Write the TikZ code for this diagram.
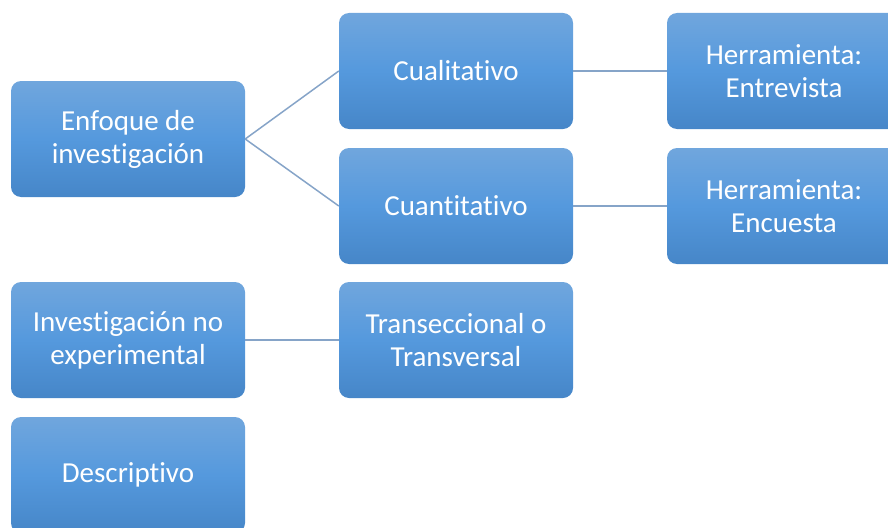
\documentclass[tikz,border=0pt]{standalone}
\usepackage{fontspec}
\setmainfont{Carlito}[Ligatures=NoCommon]
\definecolor{boxtop}{HTML}{70A6DD}
\definecolor{boxmid}{HTML}{5599DD}
\definecolor{boxbot}{HTML}{4686C8}
\definecolor{linkcol}{HTML}{86A4C8}
\begin{document}
\begin{tikzpicture}[x=1pt,y=-1pt,
  box/.style={rectangle, rounded corners=10pt, minimum width=234pt, minimum height=116pt,
    top color=boxtop, bottom color=boxbot, middle color=boxmid, draw=none,
    text=white, align=center, font=\fontsize{29}{33}\selectfont, inner sep=0pt},
  link/.style={draw=linkcol, line width=1.5pt}]
\useasboundingbox (0,0) rectangle (888,527);
\clip (0,0) rectangle (888,527);
\node[box] (enf) at (128,139) {Enfoque de\\investigación};
\node[box] (cual) at (456,71) {Cualitativo};
\node[box] (cuan) at (456,206) {Cuantitativo};
\node[box] (entr) at (784,71) {Herramienta:\\Entrevista};
\node[box] (encu) at (784,206) {Herramienta:\\Encuesta};
\node[box] (inv) at (128,340) {Investigación no\\experimental};
\node[box] (trans) at (456,340) {Transeccional o\\Transversal};
\node[box] (desc) at (128,475) {Descriptivo};
\draw[link] (enf.east) -- (cual.west);
\draw[link] (enf.east) -- (cuan.west);
\draw[link] (cual.east) -- (entr.west);
\draw[link] (cuan.east) -- (encu.west);
\draw[link] (inv.east) -- (trans.west);
\end{tikzpicture}
\end{document}
